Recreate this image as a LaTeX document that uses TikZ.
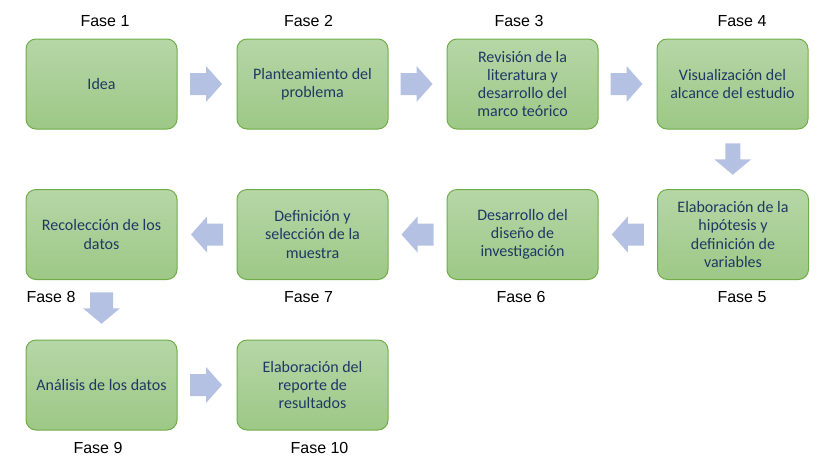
\documentclass[tikz,border=0pt]{standalone}
\usepackage{fontspec}
\setmainfont{Liberation Sans}
\newfontfamily\boxfont{Carlito}
\usetikzlibrary{calc}
\definecolor{boxtop}{RGB}{182,214,167}
\definecolor{boxbot}{RGB}{157,200,134}
\definecolor{boxline}{RGB}{112,173,71}
\definecolor{boxtext}{RGB}{31,56,100}
\definecolor{arrowcol}{RGB}{180,193,226}
\tikzset{
  phasebox/.style={draw=boxline, line width=0.75pt, rounded corners=7.5pt,
    top color=boxtop, bottom color=boxbot, minimum width=113.25pt,
    minimum height=67.5pt, inner sep=2pt, align=center,
    text=boxtext, font=\boxfont\fontsize{12}{13.7}\selectfont},
  fase/.style={text=black, font=\fontsize{12}{14}\selectfont, inner sep=0pt},
  pics/rarrow/.style={code={\fill[arrowcol] (-16,-11) -- (0,-11) -- (0,-18) -- (16,0) -- (0,18) -- (0,11) -- (-16,11) -- cycle;}},
  pics/larrow/.style={code={\fill[arrowcol] (16,-11) -- (0,-11) -- (0,-18) -- (-16,0) -- (0,18) -- (0,11) -- (16,11) -- cycle;}},
  pics/darrow/.style={code={\fill[arrowcol] (-#1,-16) -- (#1,-16) -- (#1,0) -- (18.5,0) -- (0,15.5) -- (-18.5,0) -- (-#1,0) -- cycle;}},
}
\begin{document}
\begin{tikzpicture}[x=0.75pt,y=-0.75pt]
\useasboundingbox (0,0) rectangle (827,472);
% row 1
\node[phasebox] (b1) at (101.5,84) {Idea};
\node[phasebox] (b2) at (312.5,84) {Planteamiento del\\problema};
\node[phasebox] (b3) at (522.5,84) {Revisión de la\\literatura y\\desarrollo del\\marco teórico};
\node[phasebox] (b4) at (732.5,84) {Visualización del\\alcance del estudio};
% row 2
\node[phasebox] (b5) at (733,234.5) {Elaboración de la\\hipótesis y\\definición de\\variables};
\node[phasebox] (b6) at (522.5,234.5) {Desarrollo del\\diseño de\\investigación};
\node[phasebox] (b7) at (312.5,234.5) {Definición y\\selección de la\\muestra};
\node[phasebox] (b8) at (101.5,234.5) {Recolección de los\\datos};
% row 3
\node[phasebox] (b9) at (101.5,385) {Análisis de los datos};
\node[phasebox] (b10) at (312.5,385) {Elaboración del\\reporte de\\resultados};
% labels
\node[fase] (f1) at (105,21) {Fase 1};
\node[fase] (f2) at (308.5,21) {Fase 2};
\node[fase] (f3) at (519,21) {Fase 3};
\node[fase] (f4) at (742,21) {Fase 4};
\node[fase] (f5) at (742,297) {Fase 5};
\node[fase] (f6) at (521,297) {Fase 6};
\node[fase] (f7) at (308.5,297) {Fase 7};
\node[fase] (f8) at (51,297) {Fase 8};
\node[fase] (f9) at (98,448) {Fase 9};
\node[fase] (f10) at (319.5,448) {Fase 10};
% arrows
\coordinate (a12) at ($(b1.east)!0.5!(b2.west)+(-1,0)$);
\coordinate (a23) at ($(b2.east)!0.5!(b3.west)+(-1,0)$);
\coordinate (a34) at ($(b3.east)!0.5!(b4.west)+(-1,0)$);
\coordinate (a45) at ($(b4.south)!0.5!(b5.north)$);
\coordinate (a56) at ($(b5.west)!0.5!(b6.east)$);
\coordinate (a67) at ($(b6.west)!0.5!(b7.east)$);
\coordinate (a78) at ($(b7.west)!0.5!(b8.east)$);
\coordinate (a89) at ($(b8.south)!0.5!(b9.north)+(0,-1.5)$);
\coordinate (a910) at ($(b9.east)!0.5!(b10.west)+(-1,0)$);
\pic at (a12) {rarrow};
\pic at (a23) {rarrow};
\pic at (a34) {rarrow};
\pic at (a45) {darrow=7.5};
\pic at (a56) {larrow};
\pic at (a67) {larrow};
\pic at (a78) {larrow};
\pic at (a89) {darrow=11.5};
\pic at (a910) {rarrow};
\end{tikzpicture}
\end{document}
